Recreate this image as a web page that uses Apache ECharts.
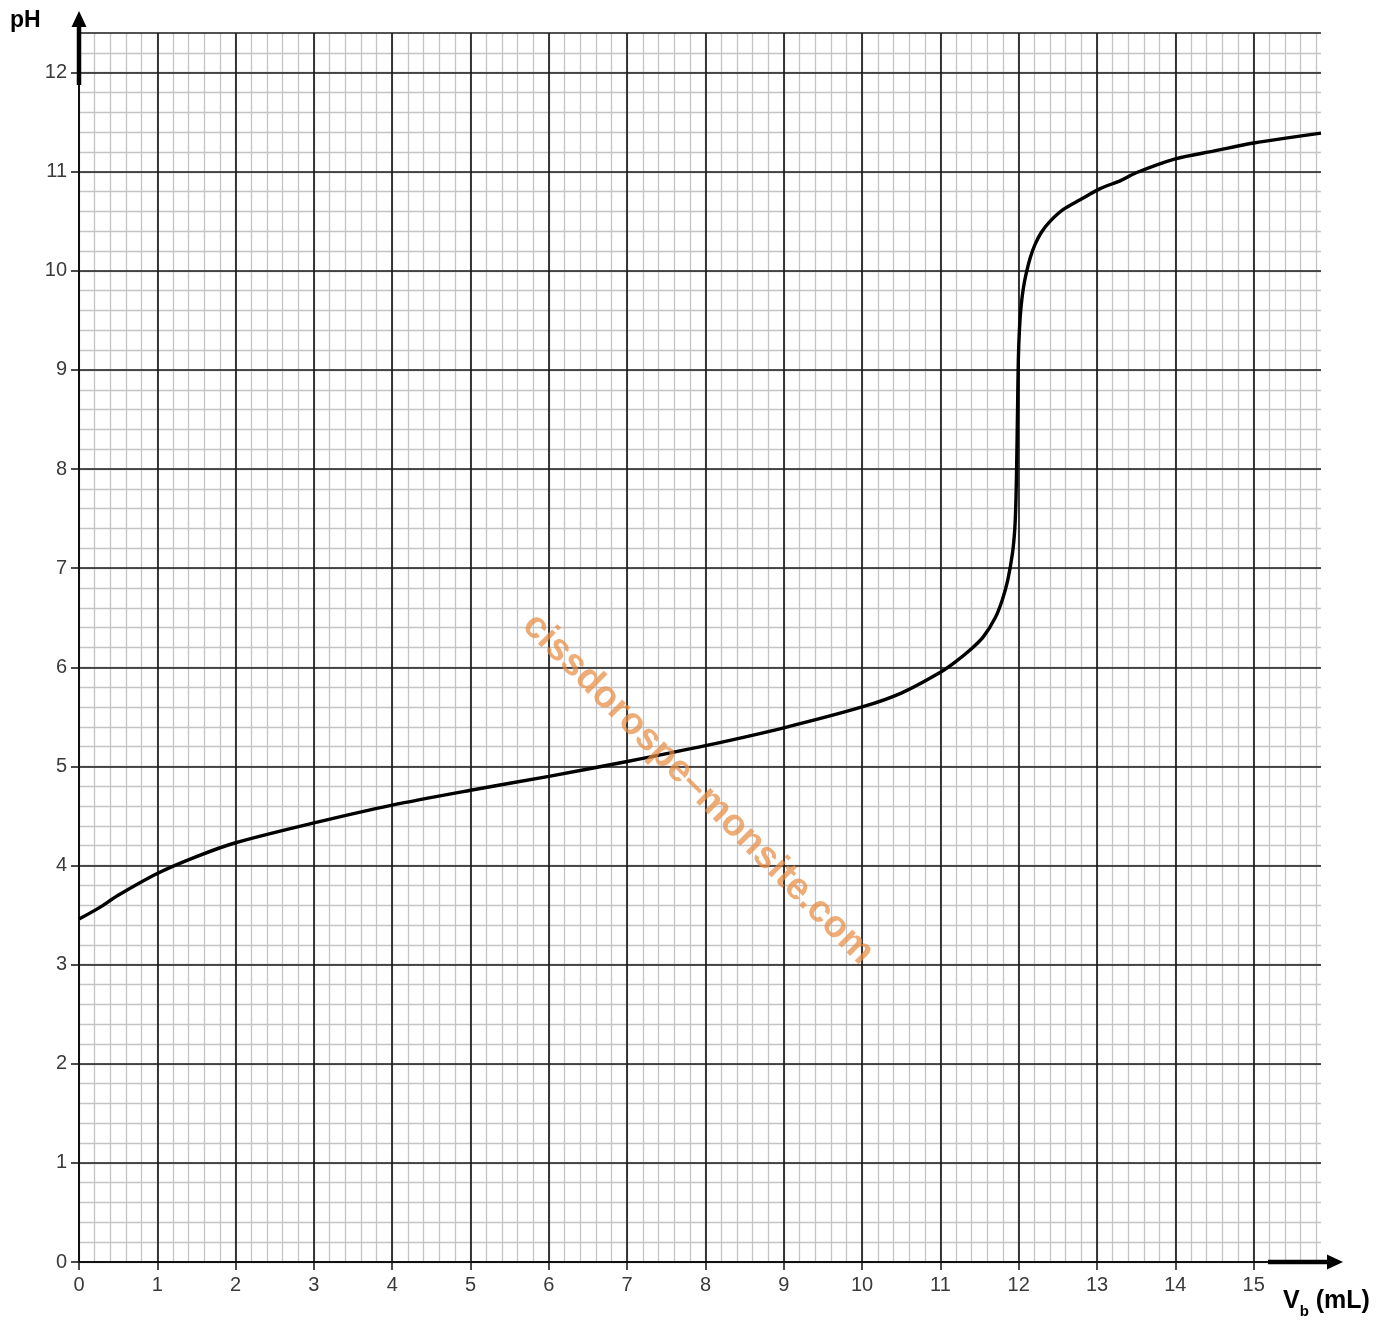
<!DOCTYPE html>
<html>
<head>
<meta charset="utf-8">
<title>Courbe de titrage pH = f(Vb)</title>
<script src="https://cdn.jsdelivr.net/npm/echarts@6/dist/echarts.min.js"></script>
<style>
  html, body { margin: 0; padding: 0; background: #fff; }
  #chart { width: 1388px; height: 1324px; }
</style>
</head>
<body>
<div id="chart"></div>
<script>
// Volume de base versé (mL) et pH mesuré
const volume = [0, 0.25, 0.5, 1, 1.5, 2, 3, 4, 5, 6, 7, 8, 9, 10, 10.5, 11, 11.2, 11.4, 11.55, 11.7, 11.79, 11.86, 11.92, 11.95, 11.965, 11.975, 11.985, 11.995, 12.01, 12.03, 12.06, 12.1, 12.15, 12.21, 12.29, 12.4, 12.57, 12.79, 13.04, 13.3, 13.5, 14, 14.5, 15, 15.5, 15.86];
const pH     = [3.46, 3.57, 3.70, 3.92, 4.09, 4.23, 4.43, 4.61, 4.76, 4.90, 5.05, 5.21, 5.39, 5.60, 5.74, 5.95, 6.06, 6.19, 6.31, 6.50, 6.68, 6.88, 7.15, 7.40, 7.70, 8.10, 8.60, 9.10, 9.42, 9.64, 9.83, 9.99, 10.14, 10.27, 10.39, 10.50, 10.62, 10.72, 10.83, 10.91, 10.99, 11.13, 11.21, 11.29, 11.35, 11.39];

// Étiquettes des axes
const xTickLabels = ['0','1','2','3','4','5','6','7','8','9','10','11','12','13','14','15'];
const yTickLabels = ['0','1','2','3','4','5','6','7','8','9','10','11','12'];

const X_MAX = 15.86;
const Y_MAX = 12.4;
const GRID = { left: 79, top: 33, width: 1242, height: 1229 };

const chart = echarts.init(document.getElementById('chart'), null, { renderer: 'canvas' });

const labelStyle = { fontFamily: 'Liberation Sans, Arial, sans-serif', fontSize: 20, color: '#3a3a3a' };

function intLabel(list) {
  return function (v) {
    const r = Math.round(v);
    return Math.abs(v - r) < 1e-6 && list[r] !== undefined ? list[r] : '';
  };
}

chart.setOption({
  animation: false,
  backgroundColor: '#fff',
  grid: Object.assign({ containLabel: false }, GRID),
  xAxis: [
    {
      type: 'value', min: 0, max: X_MAX, interval: 1, z: 2,
      axisLine: { show: true, onZero: false, lineStyle: { color: '#111', width: 2 } },
      axisTick: { show: true, length: 8, lineStyle: { color: '#111', width: 1.5 } },
      axisLabel: Object.assign({ margin: 13, showMaxLabel: false, formatter: intLabel(xTickLabels) }, labelStyle),
      splitLine: { show: true, showMinLine: false, showMaxLine: false, lineStyle: { color: '#1a1a1a', width: 1.7 } }
    },
    {
      type: 'value', min: 0, max: X_MAX, interval: 0.2, z: 1,
      axisLine: { show: false }, axisTick: { show: false }, axisLabel: { show: false },
      splitLine: { show: true, showMaxLine: false, lineStyle: { color: '#c4c4c4', width: 1.3 } }
    }
  ],
  yAxis: [
    {
      type: 'value', min: 0, max: Y_MAX, interval: 1, z: 2,
      axisLine: { show: true, onZero: false, lineStyle: { color: '#111', width: 2 } },
      axisTick: { show: true, length: 8, lineStyle: { color: '#111', width: 1.5 } },
      axisLabel: Object.assign({ margin: 12, showMaxLabel: false, formatter: intLabel(yTickLabels) }, labelStyle),
      splitLine: { show: true, showMinLine: false, lineStyle: { color: '#1a1a1a', width: 1.7 } }
    },
    {
      type: 'value', min: 0, max: Y_MAX, interval: 0.2, z: 1,
      axisLine: { show: false }, axisTick: { show: false }, axisLabel: { show: false },
      splitLine: { show: true, showMaxLine: false, lineStyle: { color: '#c4c4c4', width: 1.3 } }
    }
  ],
  series: [
    {
      type: 'line',
      xAxisIndex: 0, yAxisIndex: 0,
      data: volume.map((v, i) => [v, pH[i]]),
      showSymbol: false,
      smooth: 0.3,
      lineStyle: { color: '#000', width: 3.4 },
      z: 5
    }
  ]
});

// Flèches des axes, titres et filigrane
const origin = chart.convertToPixel({ xAxisIndex: 0, yAxisIndex: 0 }, [0, 0]);
const gridTop = GRID.top;
const gridRight = GRID.left + GRID.width;
const ox = origin[0], oy = origin[1];

chart.setOption({
  graphic: [
    { type: 'line', z: 20, shape: { x1: ox, y1: gridTop + 52, x2: ox, y2: gridTop - 6 }, style: { stroke: '#000', lineWidth: 4.5 } },
    { type: 'polygon', z: 20, shape: { points: [[ox, gridTop - 22], [ox - 7.5, gridTop - 6], [ox + 7.5, gridTop - 6]] }, style: { fill: '#000' } },
    { type: 'line', z: 20, shape: { x1: gridRight - 53, y1: oy, x2: gridRight + 8, y2: oy }, style: { stroke: '#000', lineWidth: 4.5 } },
    { type: 'polygon', z: 20, shape: { points: [[gridRight + 22, oy], [gridRight + 6, oy - 7.5], [gridRight + 6, oy + 7.5]] }, style: { fill: '#000' } },
    {
      type: 'text', z: 20, x: 10, y: 9,
      style: { text: 'pH', fill: '#000', font: 'bold 23px "Liberation Sans", Arial, sans-serif' }
    },
    {
      type: 'text', z: 20, x: 1283, y: 1289,
      style: {
        text: '{v|V}{s|b}{v| (mL)}',
        rich: {
          v: { fontSize: 25, fontWeight: 'bold', fontFamily: 'Liberation Sans, Arial, sans-serif', fill: '#000', verticalAlign: 'bottom', padding: [0, 0, 5, 0] },
          s: { fontSize: 15, fontWeight: 'bold', fontFamily: 'Liberation Sans, Arial, sans-serif', fill: '#000', verticalAlign: 'bottom' }
        }
      }
    },
    {
      type: 'text', z: 30, x: 698, y: 789, rotation: -Math.PI / 4,
      style: {
        text: 'cissdorospe–monsite.com',
        fill: 'rgba(231,140,66,0.72)',
        font: 'bold 38px "Liberation Sans", Arial, sans-serif',
        align: 'center', verticalAlign: 'middle'
      }
    }
  ]
});
</script>
</body>
</html>
